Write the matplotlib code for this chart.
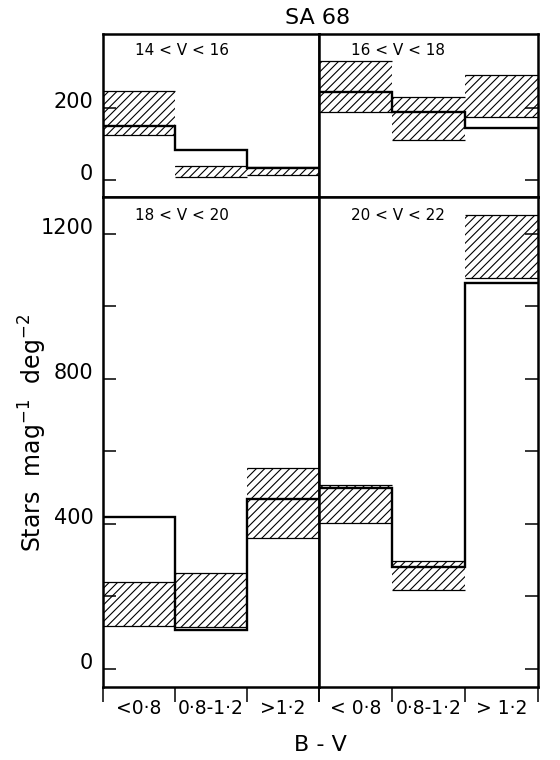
import matplotlib
matplotlib.use("Agg")
import matplotlib.pyplot as plt
import numpy as np

plt.rcParams['font.family'] = ['DejaVu Sans']
plt.rcParams['mathtext.default'] = 'regular'
plt.rcParams['hatch.linewidth'] = 0.8

# B-V colour bins
bins_left = ["<0·8", "0·8-1·2", ">1·2"]
bins_right = ["< 0·8", "0·8-1·2", "> 1·2"]

# solid histogram (observed counts) and hatched band (model range), per V range
obs_14_16 = [149, 83, 33]
lo_14_16 = [124, 8, 14]
hi_14_16 = [246, 40, 36]

obs_16_18 = [243, 188, 143]
lo_16_18 = [190, 110, 174]
hi_16_18 = [331, 229, 290]

obs_18_20 = [419, 108, 469]
lo_18_20 = [119, 115, 361]
hi_18_20 = [240, 265, 554]

obs_20_22 = [499, 281, 1065]
lo_20_22 = [403, 218, 1079]
hi_20_22 = [508, 298, 1252]

W, H = 560, 760
fig = plt.figure(figsize=(W / 100, H / 100), dpi=100)


def rect(x0, x1, y0, y1):
    return [x0 / W, 1 - y1 / H, (x1 - x0) / W, (y1 - y0) / H]


xl, xm, xr = 103, 319, 538
ax_tl = fig.add_axes(rect(xl, xm, 34, 197))
ax_tr = fig.add_axes(rect(xm, xr, 34, 197))
ax_bl = fig.add_axes(rect(xl, xm, 197, 687))
ax_br = fig.add_axes(rect(xm, xr, 197, 687))

panels = [
    (ax_tl, "14 < V < 16", obs_14_16, lo_14_16, hi_14_16, "left", True),
    (ax_tr, "16 < V < 18", obs_16_18, lo_16_18, hi_16_18, "right", True),
    (ax_bl, "18 < V < 20", obs_18_20, lo_18_20, hi_18_20, "left", False),
    (ax_br, "20 < V < 22", obs_20_22, lo_20_22, hi_20_22, "right", False),
]

edges = np.arange(4)
for ax, name, obs, lo, hi, side, is_top in panels:
    lo = np.array(lo)
    hi = np.array(hi)
    ax.bar(edges[:-1], hi - lo, bottom=lo, width=1, align='edge',
           facecolor='none', edgecolor='k', linewidth=0, hatch='////')
    ax.hlines(lo, edges[:-1], edges[1:], color='k', lw=0.9)
    ax.hlines(hi, edges[:-1], edges[1:], color='k', lw=0.9)
    ax.stairs(obs, edges, color='k', lw=1.7, baseline=None)
    ax.set_xlim(0, 3)

    for s in ax.spines.values():
        s.set_linewidth(1.8)

    if is_top:
        ax.set_ylim(-47, 405)
        ax.set_yticks([0, 200])
        ax.tick_params(axis='x', which='both', bottom=False, labelbottom=False)
        ax.text(0.148, 0.90, name, transform=ax.transAxes, fontsize=11,
                ha='left', va='center')
    else:
        ax.set_ylim(-50, 1302)
        ax.set_yticks(np.arange(0, 1201, 200))
        ax.set_xticks(edges)
        ax.set_xticklabels([])
        ax.set_xticks(edges[:-1] + 0.5, minor=True)
        ax.set_xticklabels(bins_left if side == "left" else bins_right,
                           minor=True)
        ax.tick_params(axis='x', which='major', direction='out', length=11,
                       width=1.1)
        ax.tick_params(axis='x', which='minor', length=0, pad=9, labelsize=13.5)
        ax.text(0.148, 0.963, name, transform=ax.transAxes, fontsize=11,
                ha='left', va='center')

    if side == "left":
        ax.tick_params(axis='y', direction='in', length=9.5, width=1.1,
                       left=True, right=False, labelsize=15, pad=7)
        if is_top:
            ax.set_yticklabels(["0", "200"])
        else:
            ax.set_yticklabels(["0", "", "400", "", "800", "", "1200"])
        for lab in ax.get_yticklabels():
            lab.set_verticalalignment('baseline')
    else:
        ax.tick_params(axis='y', direction='in', length=9.5, width=1.1,
                       left=False, right=True, labelleft=False)

fig.text(318 / W, 1 - 18 / H, "SA 68", ha='center', va='center', fontsize=16)
fig.text(320 / W, 1 - 745 / H, "B - V", ha='center', va='center', fontsize=16)
fig.text(33 / W, 1 - 433 / H, "Stars  mag$^{-1}$  deg$^{-2}$", rotation=90,
         ha='center', va='center', fontsize=17)

fig.savefig("out.png", dpi=100)
